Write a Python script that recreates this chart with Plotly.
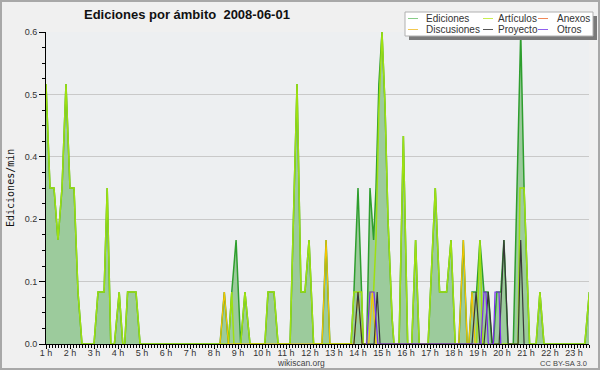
import plotly.graph_objects as go

# ---------------- data ----------------
title_text = "Ediciones por ámbito  2008-06-01"
y_title = "Ediciones/min"
footer_left = "wikiscan.org"
footer_right = "CC BY-SA 3.0"

hour_ticks = [1, 2, 3, 4, 5, 6, 7, 8, 9, 10, 11, 12, 13, 14, 15, 16, 17, 18, 19, 20, 21, 22, 23]
hour_labels = ["1 h", "2 h", "3 h", "4 h", "5 h", "6 h", "7 h", "8 h", "9 h", "10 h", "11 h", "12 h",
               "13 h", "14 h", "15 h", "16 h", "17 h", "18 h", "19 h", "20 h", "21 h", "22 h", "23 h"]
y_tick_vals = [0.0, 0.12, 0.24, 0.36, 0.48, 0.6]
y_tick_text = ["0.0", "0.1", "0.2", "0.4", "0.5", "0.6"]

series_names = ["Ediciones", "Artículos", "Anexos", "Discusiones", "Proyecto", "Otros"]

ed_t = [1.0, 1.167, 1.333, 1.5, 1.667, 1.833, 2.0, 2.167, 2.333, 2.5,
        3.0, 3.167, 3.42, 3.55, 3.7,
        3.85, 4.05, 4.2,
        4.28, 4.4, 4.75, 4.92,
        8.25, 8.43, 8.6, 8.74, 8.92, 9.11, 9.29, 9.5,
        10.12, 10.25, 10.5, 10.67,
        11.17, 11.33, 11.46, 11.625, 11.79, 11.96, 12.15,
        12.5, 12.67, 12.83,
        13.71, 13.83, 14.0, 14.15, 14.22,
        14.36, 14.5, 14.65, 14.75, 14.87, 15.0, 15.125, 15.25, 15.42, 15.5,
        15.71, 15.89, 16.07,
        16.24, 16.4, 16.55,
        16.92, 17.22, 17.4, 17.69, 17.875, 18.05,
        18.2, 18.39, 18.55,
        18.62, 18.75, 18.94, 19.08, 19.25, 19.42, 19.58,
        19.64, 19.78, 19.95, 20.08, 20.25,
        20.47, 20.78, 20.92, 21.15,
        21.42, 21.58, 21.75,
        23.45, 23.64]
ed_v = [0.5, 0.3, 0.3, 0.2, 0.3, 0.5, 0.3, 0.3, 0.1, 0,
        0, 0.1, 0.1, 0.3, 0,
        0, 0.1, 0,
        0, 0.1, 0.1, 0,
        0, 0.1, 0, 0.1, 0.2, 0, 0.1, 0,
        0, 0.1, 0.1, 0,
        0, 0.3, 0.5, 0.1, 0.1, 0.2, 0,
        0, 0.2, 0,
        0, 0.1, 0.3, 0.1, 0,
        0, 0.3, 0.2, 0.3, 0.5, 0.6, 0.46, 0.24, 0.05, 0,
        0, 0.4, 0,
        0, 0.2, 0,
        0, 0.3, 0.1, 0.1, 0.2, 0,
        0, 0.2, 0,
        0, 0.1, 0.1, 0.2, 0.1, 0.1, 0,
        0, 0.1, 0.1, 0.2, 0,
        0, 0.6, 0.3, 0,
        0, 0.1, 0,
        0, 0.1]

art_t = [1.0, 1.167, 1.333, 1.5, 1.667, 1.833, 2.0, 2.167, 2.333, 2.5,
         3.0, 3.167, 3.42, 3.55, 3.7,
         3.85, 4.05, 4.2,
         4.28, 4.4, 4.75, 4.92,
         8.6, 8.74, 8.83,
         9.11, 9.29, 9.5,
         10.12, 10.25, 10.5, 10.67,
         11.17, 11.33, 11.46, 11.625, 11.79, 11.96, 12.15,
         13.71, 13.83, 14.15, 14.22,
         14.36, 14.5, 14.65, 14.75, 14.87, 15.0, 15.125, 15.25, 15.42, 15.5,
         15.71, 15.89, 16.07,
         16.24, 16.4, 16.55,
         16.92, 17.22, 17.4, 17.69, 17.875, 18.05,
         18.94, 19.08, 19.2,
         20.67, 20.75, 20.92, 21.15,
         21.42, 21.58, 21.75,
         23.45, 23.64]
art_v = [0.5, 0.3, 0.3, 0.2, 0.3, 0.5, 0.3, 0.3, 0.1, 0,
         0, 0.1, 0.1, 0.3, 0,
         0, 0.1, 0,
         0, 0.1, 0.1, 0,
         0, 0.1, 0,
         0, 0.1, 0,
         0, 0.1, 0.1, 0,
         0, 0.3, 0.5, 0.1, 0.1, 0.2, 0,
         0, 0.1, 0.1, 0,
         0, 0.1, 0.1, 0.2, 0.45, 0.6, 0.46, 0.24, 0.05, 0,
         0, 0.4, 0,
         0, 0.2, 0,
         0, 0.3, 0.1, 0.1, 0.2, 0,
         0, 0.2, 0,
         0, 0.3, 0.3, 0,
         0, 0.1, 0,
         0, 0.1]

anx_t = []
anx_v = []

dis_t = [8.25, 8.43, 8.6,
         12.5, 12.67, 12.83,
         13.83, 14.0, 14.17,
         14.45, 14.6, 14.75,
         18.2, 18.39, 18.55,
         18.62, 18.75, 18.88]
dis_v = [0, 0.1, 0,
         0, 0.2, 0,
         0, 0.1, 0,
         0, 0.1, 0,
         0, 0.2, 0,
         0, 0.1, 0]

pro_t = [13.83, 14.0, 14.17,
         14.67, 14.8, 14.92,
         18.75, 18.92, 19.08,
         19.25, 19.43, 19.6,
         19.88, 20.08, 20.26,
         20.67, 20.78, 20.92]
pro_v = [0, 0.1, 0,
         0, 0.1, 0,
         0, 0.1, 0,
         0, 0.1, 0,
         0, 0.2, 0,
         0, 0.2, 0]

otr_t = [14.36, 14.5, 14.667, 14.83,
         19.12, 19.25, 19.33, 19.43,
         19.64, 19.71, 19.875, 19.95]
otr_v = [0, 0.1, 0.1, 0,
         0, 0.1, 0.1, 0,
         0, 0.1, 0.1, 0]

# ---------------- styling ----------------
W, H = 600, 370
ML, MR, MT, MB = 46, 11, 32, 26
PW = W - ML - MR
PH = H - MT - MB


def fx(p):
    return (p - ML) / PW


def fy(p):
    return (H - MB - p) / PH


FONT = "Liberation Sans"
colors = {
    "Ediciones": "#2e9e2e",
    "Artículos": "#9ee010",
    "Anexos": "#f07848",
    "Discusiones": "#f5c400",
    "Proyecto": "#383838",
    "Otros": "#7a2cf0",
}
legend_colors = {
    "Ediciones": "#88cc88",
    "Artículos": "#c8ee50",
    "Anexos": "#f08858",
    "Discusiones": "#f2c850",
    "Proyecto": "#555555",
    "Otros": "#9060ee",
}

fig = go.Figure()
fig.add_trace(go.Scatter(x=ed_t, y=ed_v, mode="lines", fill="tozeroy",
                         fillcolor="#9ccb9c", line=dict(color=colors["Ediciones"], width=1.5),
                         name="Ediciones", showlegend=False))
fig.add_trace(go.Scatter(x=art_t, y=art_v, mode="lines",
                         line=dict(color=colors["Artículos"], width=1.5),
                         name="Artículos", showlegend=False))
fig.add_trace(go.Scatter(x=anx_t, y=anx_v, mode="lines",
                         line=dict(color=colors["Anexos"], width=1.2),
                         name="Anexos", showlegend=False))
fig.add_trace(go.Scatter(x=dis_t, y=dis_v, mode="lines",
                         line=dict(color=colors["Discusiones"], width=1.2),
                         name="Discusiones", showlegend=False))
fig.add_trace(go.Scatter(x=pro_t, y=pro_v, mode="lines",
                         line=dict(color=colors["Proyecto"], width=1.2),
                         name="Proyecto", showlegend=False))
fig.add_trace(go.Scatter(x=otr_t, y=otr_v, mode="lines",
                         line=dict(color=colors["Otros"], width=1.2),
                         name="Otros", showlegend=False))

shapes = []
annotations = []

# outer border
shapes.append(dict(type="rect", xref="paper", yref="paper",
                   x0=fx(1), x1=fx(W - 1), y0=fy(H - 1), y1=fy(1),
                   line=dict(color="#a8a8a8", width=2), fillcolor="rgba(0,0,0,0)", layer="above"))

# manual legend box (shadow + white box)
bx0, bx1, by0, by1 = 405, 593, 12, 36
shapes.append(dict(type="rect", xref="paper", yref="paper",
                   x0=fx(bx0 + 4), x1=fx(bx1 + 4), y0=fy(by1 + 4), y1=fy(by0 + 4),
                   line=dict(width=0), fillcolor="#7a7a7a", layer="above"))
shapes.append(dict(type="rect", xref="paper", yref="paper",
                   x0=fx(bx0), x1=fx(bx1), y0=fy(by1), y1=fy(by0),
                   line=dict(color="#b0b0b0", width=1), fillcolor="white", layer="above"))

leg_cols = [(408, 418, 424), (483, 493, 496), (538, 548, 555)]
leg_rows = [18.5, 29.5]
leg_order = [["Ediciones", "Artículos", "Anexos"], ["Discusiones", "Proyecto", "Otros"]]
for r, row in enumerate(leg_order):
    for c, nm in enumerate(row):
        lx0, lx1, tx = leg_cols[c]
        yy = leg_rows[r]
        shapes.append(dict(type="line", xref="paper", yref="paper",
                           x0=fx(lx0), x1=fx(lx1), y0=fy(yy), y1=fy(yy),
                           line=dict(color=legend_colors[nm], width=1), layer="above"))
        annotations.append(dict(text=nm, xref="paper", yref="paper", x=fx(tx), y=fy(yy),
                                xanchor="left", yanchor="middle", showarrow=False,
                                font=dict(family=FONT, size=10, color="#333333")))

annotations.append(dict(text="<b>" + title_text + "</b>", xref="paper", yref="paper",
                        x=fx(187), y=fy(15), xanchor="center", yanchor="middle", showarrow=False,
                        font=dict(family=FONT, size=13, color="#111111")))
annotations.append(dict(text=y_title, xref="paper", yref="paper", x=fx(10), y=fy(188),
                        xanchor="center", yanchor="middle", showarrow=False, textangle=-90,
                        font=dict(family="DejaVu Sans Mono", size=10, color="#111111")))
annotations.append(dict(text=footer_left, xref="paper", yref="paper", x=fx(301), y=fy(363),
                        xanchor="center", yanchor="middle", showarrow=False,
                        font=dict(family=FONT, size=8.5, color="#444444")))
annotations.append(dict(text=footer_right, xref="paper", yref="paper", x=fx(589), y=fy(363),
                        xanchor="right", yanchor="middle", showarrow=False,
                        font=dict(family=FONT, size=7.5, color="#444444")))

fig.update_layout(
    width=W, height=H,
    margin=dict(l=ML, r=MR, t=MT, b=MB, pad=0),
    paper_bgcolor="#f0f0f0",
    plot_bgcolor="#edeff1",
    showlegend=False,
    shapes=shapes,
    annotations=annotations,
    xaxis=dict(range=[1, 1 + PW / 24], tickmode="array", tickvals=hour_ticks, ticktext=hour_labels,
               showgrid=False, zeroline=False, showline=True, linecolor="black", linewidth=1,
               ticks="outside", ticklen=4, tickwidth=1, tickcolor="black",
               ticklabelstandoff=-4,
               tickfont=dict(family=FONT, size=9, color="#333333"),
               minor=dict(tick0=1, dtick=0.125, ticks="outside", ticklen=3, tickcolor="black",
                          tickwidth=1, showgrid=False)),
    yaxis=dict(range=[0, 0.6], tickmode="array", tickvals=y_tick_vals, ticktext=y_tick_text,
               showgrid=True, gridcolor="#c9c9c9", gridwidth=1, zeroline=False,
               showline=True, linecolor="black", linewidth=1,
               ticks="outside", ticklen=6, tickwidth=1, tickcolor="black",
               tickfont=dict(family=FONT, size=9, color="#333333"),
               minor=dict(tick0=0, dtick=0.03, ticks="outside", ticklen=3, tickcolor="black",
                          tickwidth=1, showgrid=False)),
)

fig.write_html("out.html", config={"displayModeBar": False},
               post_script="document.body.style.margin='0';document.body.style.padding='0';")
